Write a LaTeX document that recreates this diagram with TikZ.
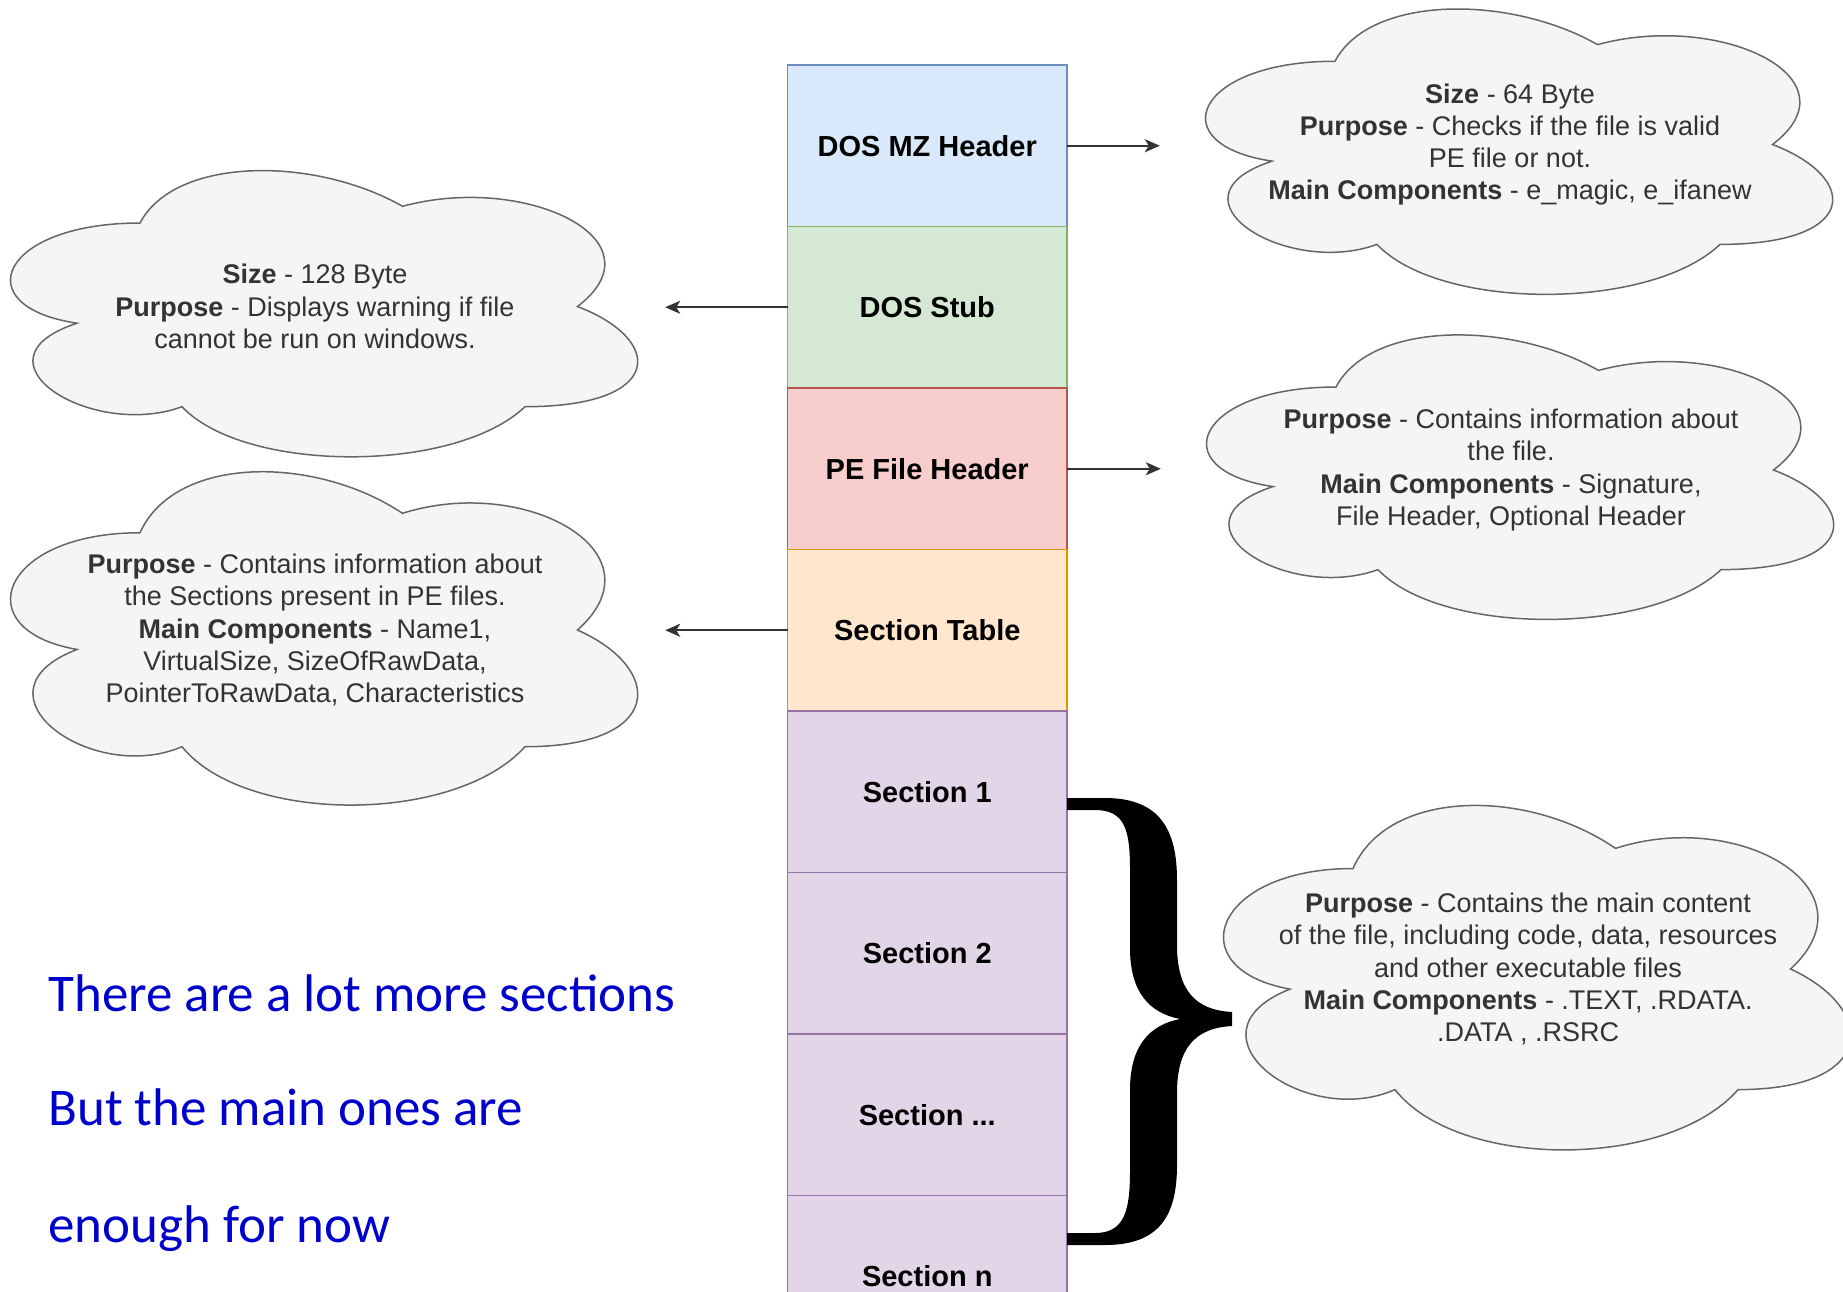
\documentclass[tikz,border=0pt]{standalone}
\usepackage{fontspec}
\setmainfont{Liberation Sans}
\newfontfamily\notefont{Carlito}
\usetikzlibrary{positioning,arrows.meta}

% colours of the layers (fill / border)
\definecolor{mzfill}{HTML}{DAE8FC}   \definecolor{mzline}{HTML}{6C8EBF}
\definecolor{stubfill}{HTML}{D5E8D4} \definecolor{stubline}{HTML}{82B366}
\definecolor{pefill}{HTML}{F8CECC}   \definecolor{peline}{HTML}{B85450}
\definecolor{tabfill}{HTML}{FFE6CC}  \definecolor{tabline}{HTML}{D79B00}
\definecolor{secfill}{HTML}{E1D5E7}  \definecolor{secline}{HTML}{9673A6}
% colours of the clouds and the notes
\definecolor{cloudfill}{HTML}{F5F5F5}
\definecolor{cloudline}{HTML}{666666}
\definecolor{infotext}{HTML}{333333}
\definecolor{noteblue}{HTML}{0000CC}

% cloud outline, 700 wide: centre x, centre y, height
\newcommand{\pecloud}[3]{%
    \filldraw[cloudshape, shift={(#1-350,#2-#3/2)}, x=700pt, y=-#3pt]
        (0.25,0.25) .. controls (0.05,0.25) and (0,0.5) .. (0.16,0.55)
        .. controls (0,0.66) and (0.18,0.9) .. (0.31,0.8)
        .. controls (0.4,1) and (0.7,1) .. (0.8,0.8)
        .. controls (1,0.8) and (1,0.6) .. (0.875,0.5)
        .. controls (1,0.3) and (0.8,0.1) .. (0.625,0.2)
        .. controls (0.5,0.05) and (0.3,0.05) .. (0.25,0.25) -- cycle;}

\begin{document}
\begin{tikzpicture}[
        % --- GENERAL SETTINGS ---
        x=1pt, y=-1pt, % one unit = one pixel of the sketch, y runs downwards
        % style for the layers of the PE file (coloured boxes)
        layer/.style={
            rectangle,
            draw,
            line width=1.5pt,
            outer sep=0pt,
            minimum width=279.5pt,
            minimum height=161.5pt,
            font=\fontsize{29}{34}\selectfont\bfseries
        },
        % style for the cloud outlines
        cloudshape/.style={
            fill=cloudfill,
            draw=cloudline,
            line width=1.5pt
        },
        % style for the text in the clouds (node as large as the cloud)
        info/.style={
            rectangle,
            minimum width=700pt,
            inner sep=0pt,
            align=center,
            text=infotext,
            font=\fontsize{27}{32.3}\selectfont
        },
        % style for the arrows
        arrow/.style={
            -{Stealth[length=15pt,width=13pt,inset=4pt]},
            line width=2pt,
            draw=black!80
        },
        % style for the blue notes
        note/.style={
            anchor=base west,
            text=noteblue,
            font=\notefont\fontsize{53}{60}\selectfont
        }
    ]

    % --- PAGE SIZE ---
    \useasboundingbox (0,0) rectangle (1843,1291);
    \clip (0,0) rectangle (1843,1291);

    % --- THE STACK OF THE PE FILE ---
    \node[layer, fill=mzfill, draw=mzline] (mz) at (927.25,145.75) {DOS MZ Header};
    \node[layer, fill=stubfill, draw=stubline, below=0pt of mz] (stub) {DOS Stub};
    \node[layer, fill=pefill, draw=peline, below=0pt of stub] (pe) {PE File Header};
    \node[layer, fill=tabfill, draw=tabline, below=0pt of pe] (table) {Section Table};
    \node[layer, fill=secfill, draw=secline, below=0pt of table] (sec1) {Section 1};
    \node[layer, fill=secfill, draw=secline, below=0pt of sec1] (sec2) {Section 2};
    \node[layer, fill=secfill, draw=secline, below=0pt of sec2] (secdots) {Section ...};
    \node[layer, fill=secfill, draw=secline, below=0pt of secdots] (secn) {Section n};

    % --- THE CLOUDS ---
    \pecloud{1510}{144.5}{333}
    \node[info, minimum height=333pt] (mzinfo) at (1510,144.5)
        {\textbf{Size} - 64 Byte\\
         \textbf{Purpose} - Checks if the file is valid\\
         PE file or not.\\
         \textbf{Main Components} - e\_magic, e\_ifanew};
    \pecloud{315}{306.5}{334}
    \node[info, minimum height=334pt] (stubinfo) at (315,306.5)
        {\textbf{Size} - 128 Byte\\
         \textbf{Purpose} - Displays warning if file\\
         cannot be run on windows.};
    \pecloud{1511}{470}{332}
    \node[info, minimum height=332pt] (peinfo) at (1511,470)
        {\textbf{Purpose} - Contains information about\\
         the file.\\
         \textbf{Main Components} - Signature,\\
         File Header, Optional Header};
    \pecloud{315}{630}{389}
    \node[info, minimum height=389pt] (tableinfo) at (315,630)
        {\textbf{Purpose} - Contains information about\\
         the Sections present in PE files.\\
         \textbf{Main Components} - Name1,\\
         VirtualSize, SizeOfRawData,\\
         PointerToRawData, Characteristics};
    \pecloud{1528}{969}{402}
    \node[info, minimum height=402pt] (secinfo) at (1528,969)
        {\textbf{Purpose} - Contains the main content\\
         of the file, including code, data, resources\\
         and other executable files\\
         \textbf{Main Components} - .TEXT, .RDATA.\\
         .DATA , .RSRC};

    % --- THE ARROWS ---
    \draw[arrow] (mz.east) -- (mz.east -| mzinfo.west);
    \draw[arrow] (stub.west) -- (stub.west -| stubinfo.east);
    \draw[arrow] (pe.east) -- (pe.east -| peinfo.west);
    \draw[arrow] (table.west) -- (table.west -| tableinfo.east);

    % --- THE BRACE OVER THE SECTIONS ---
    \fill (1067,798) -- (1105,798)
        .. controls (1160,798) and (1177,830) .. (1177,880) -- (1177,945)
        .. controls (1177,990) and (1195,1010) .. (1232,1012) -- (1232,1026)
        .. controls (1195,1028) and (1177,1048) .. (1177,1093) -- (1177,1165)
        .. controls (1177,1215) and (1160,1245) .. (1105,1245) -- (1067,1245)
        -- (1067,1233) -- (1095,1233)
        .. controls (1125,1233) and (1130,1210) .. (1130,1170) -- (1130,1090)
        .. controls (1130,1045) and (1150,1025) .. (1180,1019)
        .. controls (1150,1013) and (1130,993) .. (1130,948) -- (1130,870)
        .. controls (1130,830) and (1125,810) .. (1095,810) -- (1067,810) -- cycle;

    % --- THE BLUE NOTES ---
    \node[note] (note1) at (45,1011) {There are a lot more sections};
    \node[note] (note2) at (45,1125) {But the main ones are};
    \node[note] (note3) at (45,1242) {enough for now};

\end{tikzpicture}
\end{document}
